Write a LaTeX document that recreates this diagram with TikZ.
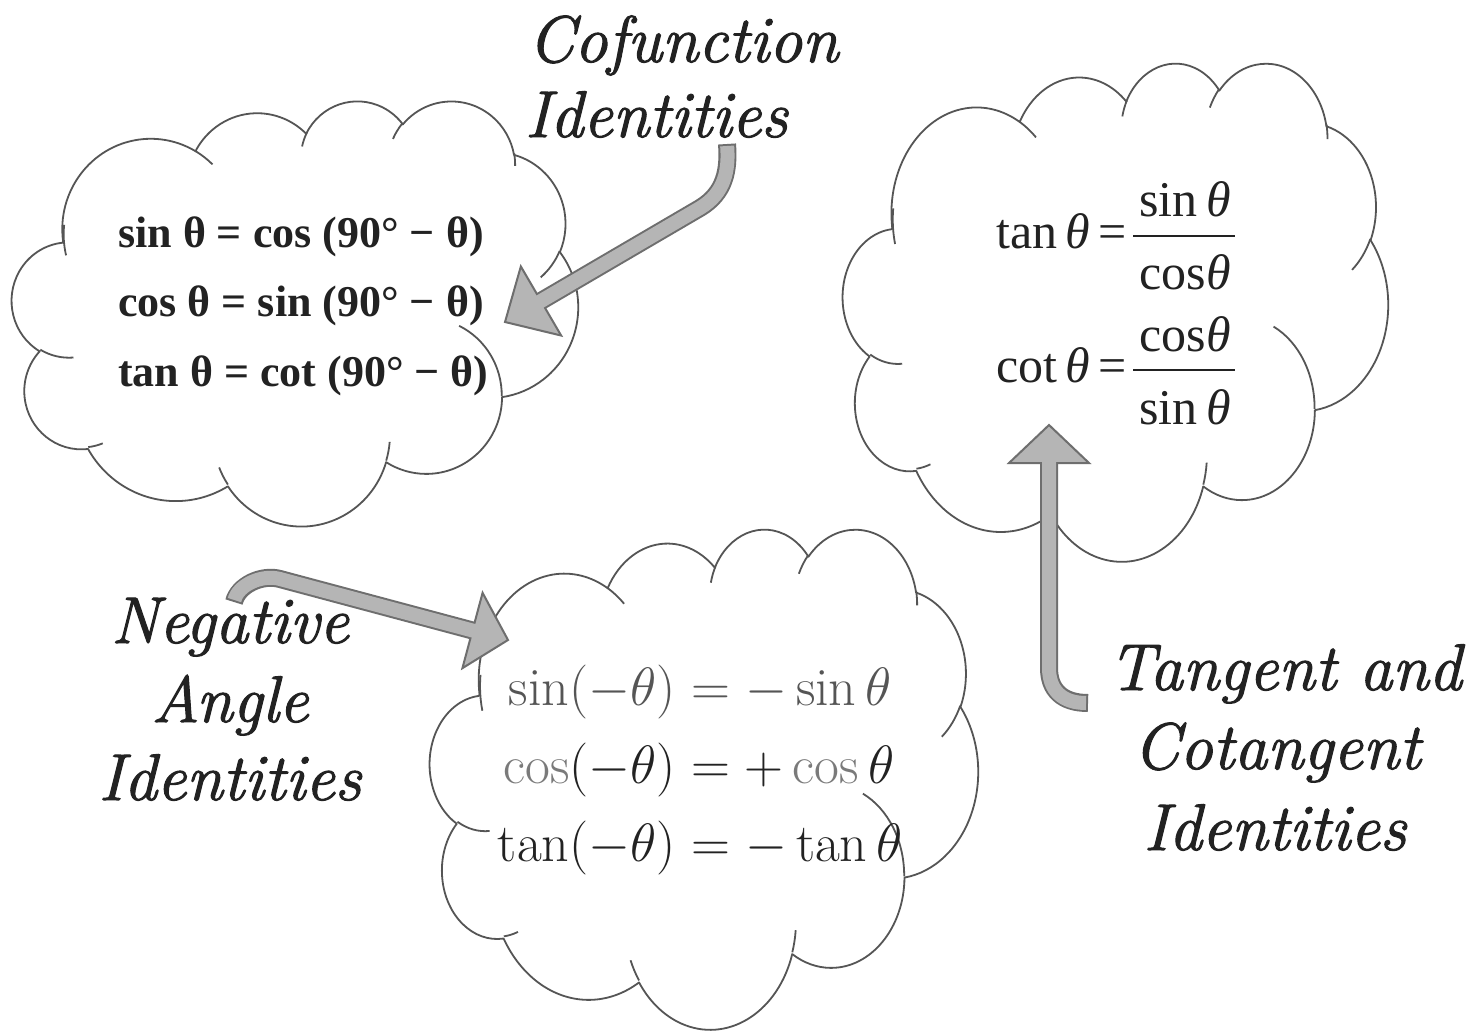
\RequirePackage{fix-cm}
\documentclass[tikz,border=0pt]{standalone}
\usepackage{fontspec}
\newfontfamily\timesf{Liberation Serif}
\newfontfamily\lblfont{Latin Modern Roman}[FakeBold=1.6]
\usetikzlibrary{calc}
\definecolor{cloudline}{HTML}{555555}
\definecolor{arrowline}{HTML}{6E6E6E}
\definecolor{arrowfill}{HTML}{B5B5B5}
\definecolor{ink}{HTML}{222222}
\definecolor{sinink}{HTML}{555555}
\definecolor{cosink}{HTML}{7A7A7A}

\makeatletter
\newcommand\cldef[5]{%
  \pgfmathsetmacro\cl@s{atan2((#2)*sin(#4),(#3)*cos(#4))}%
  \pgfmathsetmacro\cl@e{atan2((#2)*sin((#4)+(#5)),(#3)*cos((#4)+(#5)))}%
  \pgfmathsetmacro\cl@d{mod(\cl@e-\cl@s+720,360)}%
  \expandafter\xdef\csname cls#1\endcsname{\cl@s}%
  \expandafter\xdef\csname cld#1\endcsname{\cl@d}%
}
\makeatother
\cldef{A}{6.753}{9.190}{-190.4875}{123.7805}
\cldef{B}{5.333}{7.267}{-144.1024}{89.9452}
\cldef{C}{4.365}{5.945}{-145.8079}{99.7230}
\cldef{D}{4.857}{6.595}{-130.9861}{117.2417}
\cldef{E}{5.333}{7.273}{-78.7089}{109.0269}
\cldef{F}{6.775}{9.220}{-46.2673}{130.2690}
\cldef{G}{5.785}{7.867}{0.6250}{114.0333}
\cldef{H}{6.752}{9.215}{22.4516}{115.1726}
\cldef{I}{7.720}{10.543}{66.2426}{75.7110}
\cldef{J}{4.360}{5.918}{-274.9421}{146.7356}
\cldef{K}{4.345}{5.945}{-246.8285}{152.5189}
\cldef{iA}{4.345}{5.945}{86.7420}{26.4295}
\cldef{iB}{4.360}{5.918}{73.6105}{11.4475}
\cldef{iC}{6.752}{9.215}{137.6242}{14.0811}
\cldef{iD}{6.752}{9.215}{6.4533}{15.9984}
\cldef{iE}{5.785}{7.867}{-70.2924}{70.9174}
\cldef{iF}{5.333}{7.273}{30.3180}{27.7515}
\cldef{iG}{4.857}{6.595}{-13.7443}{14.8589}
\cldef{iH}{4.857}{6.595}{-149.1815}{18.1954}
\cldef{iI}{4.365}{5.945}{-163.4943}{17.6864}
\cldef{iJ}{6.753}{9.190}{-66.7070}{12.3194}
\cldef{iK}{6.753}{9.190}{162.0424}{26.1471}

\tikzset{
  cloudsty/.style={draw=cloudline, line width=1.8pt, fill=white, line join=round},
  cloudinner/.style={draw=cloudline, line width=1.8pt},
  shaftout/.style={draw=arrowline, line width=18pt},
  shaftin/.style={draw=arrowfill, line width=14pt},
  headsty/.style={fill=arrowfill, draw=arrowline, line width=2pt, line join=miter},
  lbl/.style={font=\lblfont\itshape\fontsize{66}{72}\selectfont, text=ink, inner sep=0pt},
  coeq/.style={font=\timesf\bfseries\fontsize{44}{50}\selectfont, text=ink, inner sep=0pt},
  rq/.style={font=\timesf\fontsize{50}{56}\selectfont, text=ink, inner sep=0pt},
  bq/.style={font=\fontsize{54}{62}\selectfont, text=ink, inner sep=0pt},
}

\newcommand\drawcloud[4]{%
\begin{scope}[shift={(#1,-#2)},xscale=#3/43.2,yscale=-#4/43.2]
\path[cloudsty] (3.900,14.370)
 arc[start angle=\clsA,delta angle=\cldA,x radius=6.753,y radius=9.190]
 arc[start angle=\clsB,delta angle=\cldB,x radius=5.333,y radius=7.267]
 arc[start angle=\clsC,delta angle=\cldC,x radius=4.365,y radius=5.945]
 arc[start angle=\clsD,delta angle=\cldD,x radius=4.857,y radius=6.595]
 arc[start angle=\clsE,delta angle=\cldE,x radius=5.333,y radius=7.273]
 arc[start angle=\clsF,delta angle=\cldF,x radius=6.775,y radius=9.220]
 arc[start angle=\clsG,delta angle=\cldG,x radius=5.785,y radius=7.867]
 arc[start angle=\clsH,delta angle=\cldH,x radius=6.752,y radius=9.215]
 arc[start angle=\clsI,delta angle=\cldI,x radius=7.720,y radius=10.543]
 arc[start angle=\clsJ,delta angle=\cldJ,x radius=4.360,y radius=5.918]
 arc[start angle=\clsK,delta angle=\cldK,x radius=4.345,y radius=5.945]
 -- cycle;
\path[cloudinner]
 (4.693,26.177) arc[start angle=\clsiA,delta angle=\cldiA,x radius=4.345,y radius=5.945]
 (6.928,34.899) arc[start angle=\clsiB,delta angle=\cldiB,x radius=4.360,y radius=5.918]
 (16.478,39.090) arc[start angle=\clsiC,delta angle=\cldiC,x radius=6.752,y radius=9.215]
 (28.827,34.751) arc[start angle=\clsiD,delta angle=\cldiD,x radius=6.752,y radius=9.215]
 (34.129,22.954) arc[start angle=\clsiE,delta angle=\cldiE,x radius=5.785,y radius=7.867]
 (41.798,15.354) arc[start angle=\clsiF,delta angle=\cldiF,x radius=5.333,y radius=7.273]
 (38.324,5.426) arc[start angle=\clsiG,delta angle=\cldiG,x radius=4.857,y radius=6.595]
 (29.078,3.952) arc[start angle=\clsiH,delta angle=\cldiH,x radius=4.857,y radius=6.595]
 (22.141,4.720) arc[start angle=\clsiI,delta angle=\cldiI,x radius=4.365,y radius=5.945]
 (14.000,5.192) arc[start angle=\clsiJ,delta angle=\cldiJ,x radius=6.753,y radius=9.190]
 (4.127,15.789) arc[start angle=\clsiK,delta angle=\cldiK,x radius=6.753,y radius=9.190];
\end{scope}}

\begin{document}
\begin{tikzpicture}[x=1pt,y=1pt]
\useasboundingbox[fill=white] (0,0) rectangle (1479,-1030);

% clouds
\drawcloud{12}{100}{566}{425}
\drawcloud{843}{62}{545}{498}
\drawcloud{430}{528}{548}{500}

% arrow 1 (Cofunction)
\coordinate (a1s) at (727,-144);
\coordinate (a1B) at (541,-301);
\coordinate (a1T) at (505,-322);
\draw[shaftout] (a1s) .. controls (729,-170) and (725,-193) .. (700,-208) -- (a1B);
\path[headsty] (a1T) -- ($(a1B)!40pt!90:(a1T)$) -- ($(a1B)!40pt!-90:(a1T)$) -- cycle;
\draw[shaftin, shorten <=2pt] (a1s) .. controls (729,-170) and (725,-193) .. (700,-208) -- ($(a1B)!3pt!(a1T)$);

% arrow 2 (Negative)
\coordinate (a2s) at (234,-602);
\coordinate (a2B) at (472.5,-630.5);
\coordinate (a2T) at (508,-640);
\draw[shaftout] (a2s) .. controls (238,-585) and (262,-574) .. (280,-579) -- (a2B);
\path[headsty] (a2T) -- ($(a2B)!39pt!90:(a2T)$) -- ($(a2B)!39pt!-90:(a2T)$) -- cycle;
\draw[shaftin, shorten <=2pt] (a2s) .. controls (238,-585) and (262,-574) .. (280,-579) -- ($(a2B)!3pt!(a2T)$);

% arrow 3 (Tangent)
\coordinate (a3s) at (1088,-703);
\coordinate (a3B) at (1049,-463);
\coordinate (a3T) at (1049,-425);
\draw[shaftout] (a3s) .. controls (1062,-703) and (1049,-690) .. (1049,-668) -- (a3B);
\path[headsty] (a3T) -- ($(a3B)!40pt!90:(a3T)$) -- ($(a3B)!40pt!-90:(a3T)$) -- cycle;
\draw[shaftin, shorten <=2pt] (a3s) .. controls (1062,-703) and (1049,-690) .. (1049,-668) -- ($(a3B)!3pt!(a3T)$);

% labels
\node[lbl, anchor=base west] (cof1) at (528,-62) {Cofunction};
\node[lbl, anchor=base west] (cof2) at (525,-137) {Identities};
\node[lbl, anchor=base] (neg1) at (230,-643) {Negative};
\node[lbl, anchor=base] (neg2) at (230,-722) {Angle};
\node[lbl, anchor=base] (neg3) at (230,-800) {Identities};
\node[lbl, anchor=base] (tan1) at (1285,-690) {Tangent and};
\node[lbl, anchor=base] (tan2) at (1277,-769) {Cotangent};
\node[lbl, anchor=base] (tan3) at (1275,-850) {Identities};

% cofunction equations
\node[coeq, anchor=base west] (co1) at (118,-247) {sin θ = cos (90° − θ)};
\node[coeq, anchor=base west] (co2) at (118,-316) {cos θ = sin (90° − θ)};
\node[coeq, anchor=base west] (co3) at (118,-386) {tan θ = cot (90° − θ)};

% quotient identities
\node[rq, anchor=base east] (q1l) at (1127,-248) {tan\,\textit{θ}\,=};
\node[rq, anchor=base] (q1n) at (1185,-216) {sin\,\textit{θ}};
\node[rq, anchor=base] (q1d) at (1185,-289) {cos\textit{θ}};
\coordinate (b1l) at (1133,-236);
\coordinate (b1r) at (1235,-236);
\draw[ink, line width=1.6pt] (b1l) -- (b1r);
\node[rq, anchor=base east] (q2l) at (1127,-382) {cot\,\textit{θ}\,=};
\node[rq, anchor=base] (q2n) at (1185,-351) {cos\textit{θ}};
\node[rq, anchor=base] (q2d) at (1185,-424) {sin\,\textit{θ}};
\coordinate (b2l) at (1133,-370);
\coordinate (b2r) at (1235,-370);
\draw[ink, line width=1.6pt] (b2l) -- (b2r);

% negative angle identities
\node[bq, anchor=base east] (n1l) at (676,-705) {$\color{sinink}\sin(-\theta)$};
\node[bq, anchor=base west] (n1r) at (676,-705) {${}\color{sinink}= -\sin\theta$};
\node[bq, anchor=base east] (n2l) at (676,-783) {$\color{cosink}\cos\color{ink}(-\theta)$};
\node[bq, anchor=base west] (n2r) at (676,-783) {${}\color{ink}= +\color{cosink}\cos\color{ink}\theta$};
\node[bq, anchor=base east] (n3l) at (676,-861) {$\tan(-\theta)$};
\node[bq, anchor=base west] (n3r) at (676,-861) {${}= -\tan\theta$};
\end{tikzpicture}
\end{document}
